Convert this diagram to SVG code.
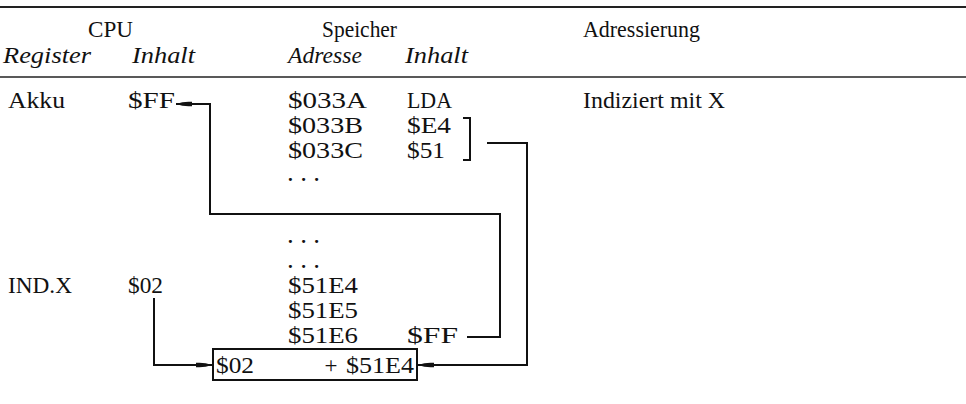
<svg xmlns="http://www.w3.org/2000/svg" width="966" height="404" viewBox="0 0 966 404">
<defs>
<style>
text{font-family:"Liberation Serif","Times New Roman",serif;font-size:23px;fill:#111}
.i{font-style:italic}
.dots{font-size:19px;font-weight:bold}
.ln{stroke:#111;stroke-width:2;fill:none}
.rule{stroke:#222;fill:none}
</style>
<marker id="ah" viewBox="0 0 16 8" refX="16" refY="4" markerWidth="16" markerHeight="8" markerUnits="userSpaceOnUse" orient="auto">
<path d="M0,1.8 Q8,1 16,4 Q8,7 0,6.2 Z" fill="#111"/>
</marker>
</defs>
<rect width="966" height="404" fill="#fff"/>
<g id="rules">
<line class="rule" x1="0" y1="7" x2="966" y2="7" stroke-width="2"/>
<line class="rule" x1="0" y1="77" x2="966" y2="77" stroke-width="1.5"/>
</g>
<g id="header">
<text x="88" y="37" textLength="45" lengthAdjust="spacingAndGlyphs">CPU</text>
<text x="322" y="37" textLength="75" lengthAdjust="spacingAndGlyphs">Speicher</text>
<text x="583" y="37" textLength="117" lengthAdjust="spacingAndGlyphs">Adressierung</text>
<text class="i" x="3" y="63" textLength="88" lengthAdjust="spacingAndGlyphs">Register</text>
<text class="i" x="132" y="63" textLength="63" lengthAdjust="spacingAndGlyphs">Inhalt</text>
<text class="i" x="288" y="63" textLength="74" lengthAdjust="spacingAndGlyphs">Adresse</text>
<text class="i" x="405" y="63" textLength="63" lengthAdjust="spacingAndGlyphs">Inhalt</text>
</g>
<g id="cpu">
<text x="8" y="108" textLength="57" lengthAdjust="spacingAndGlyphs">Akku</text>
<text x="128" y="108" textLength="47" lengthAdjust="spacingAndGlyphs">$FF</text>
<text x="8" y="293" textLength="64" lengthAdjust="spacingAndGlyphs">IND.X</text>
<text x="128" y="293" textLength="35" lengthAdjust="spacingAndGlyphs">$02</text>
</g>
<g id="memory">
<text x="288" y="108" textLength="79" lengthAdjust="spacingAndGlyphs">$033A</text>
<text x="407" y="108" textLength="45" lengthAdjust="spacingAndGlyphs">LDA</text>
<text x="288" y="133" textLength="75" lengthAdjust="spacingAndGlyphs">$033B</text>
<text x="407" y="133" textLength="44" lengthAdjust="spacingAndGlyphs">$E4</text>
<text x="288" y="158" textLength="75" lengthAdjust="spacingAndGlyphs">$033C</text>
<text x="407" y="158" textLength="38" lengthAdjust="spacingAndGlyphs">$51</text>
<text class="dots" x="288" y="181" textLength="31" lengthAdjust="spacing">...</text>
<text class="dots" x="288" y="243" textLength="31" lengthAdjust="spacing">...</text>
<text class="dots" x="288" y="268" textLength="31" lengthAdjust="spacing">...</text>
<text x="288" y="293" textLength="70" lengthAdjust="spacingAndGlyphs">$51E4</text>
<text x="288" y="318" textLength="70" lengthAdjust="spacingAndGlyphs">$51E5</text>
<text x="288" y="343" textLength="70" lengthAdjust="spacingAndGlyphs">$51E6</text>
<text x="407" y="343" textLength="51" lengthAdjust="spacingAndGlyphs">$FF</text>
</g>
<g id="mode">
<text x="583" y="108" textLength="142" lengthAdjust="spacingAndGlyphs">Indiziert mit X</text>
</g>
<g id="bracket">
<path class="ln" d="M463,118 H470 V160 H463"/>
</g>
<g id="sum-box">
<rect x="213" y="349" width="204" height="31" fill="none" stroke="#111" stroke-width="2"/>
<text x="216" y="373" textLength="38" lengthAdjust="spacingAndGlyphs">$02</text>
<text x="331" y="373" text-anchor="middle">+</text>
<text x="346" y="373" textLength="68" lengthAdjust="spacingAndGlyphs">$51E4</text>
</g>
<g id="connectors">
<path class="ln" d="M487,143 H527 V365 H418" marker-end="url(#ah)"/>
<path class="ln" d="M467,337 H500 V214 H210 V104 H176" marker-end="url(#ah)"/>
<path class="ln" d="M154,298 V365 H212" marker-end="url(#ah)"/>
</g>
</svg>
